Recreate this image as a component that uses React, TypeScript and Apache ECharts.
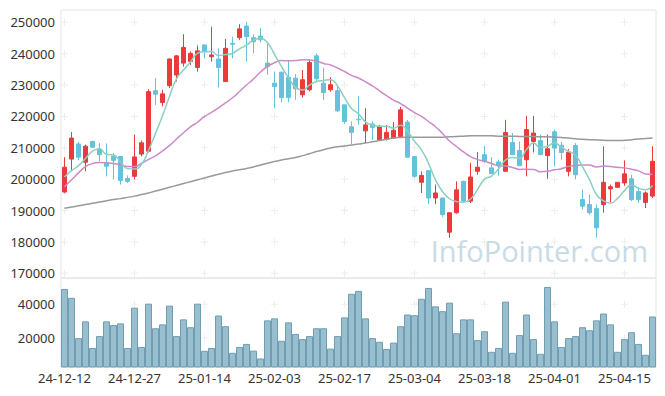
import React, { useEffect, useRef } from "react";
import * as echarts from "echarts";

const dates = [
  "24-12-12","24-12-13","24-12-16","24-12-17","24-12-18","24-12-19","24-12-20","24-12-23","24-12-24","24-12-26",
  "24-12-27","24-12-30","25-01-02","25-01-03","25-01-06","25-01-07","25-01-08","25-01-09","25-01-10","25-01-13",
  "25-01-14","25-01-15","25-01-16","25-01-17","25-01-20","25-01-21","25-01-22","25-01-23","25-01-24","25-01-31",
  "25-02-03","25-02-04","25-02-05","25-02-06","25-02-07","25-02-10","25-02-11","25-02-12","25-02-13","25-02-14",
  "25-02-17","25-02-18","25-02-19","25-02-20","25-02-21","25-02-24","25-02-25","25-02-26","25-02-27","25-02-28",
  "25-03-04","25-03-05","25-03-06","25-03-07","25-03-10","25-03-11","25-03-12","25-03-13","25-03-14","25-03-17",
  "25-03-18","25-03-19","25-03-20","25-03-21","25-03-24","25-03-25","25-03-26","25-03-27","25-03-28","25-03-31",
  "25-04-01","25-04-02","25-04-03","25-04-04","25-04-07","25-04-08","25-04-09","25-04-10","25-04-11","25-04-14",
  "25-04-15","25-04-16","25-04-17","25-04-18","25-04-21",
];

const opens = [
  195900,206400,211200,205400,212000,209600,205200,207300,207200,200200,
  200900,208000,208900,228200,224400,229800,233200,237000,237500,235600,
  242800,239000,238300,231100,243300,245100,248800,245100,245600,237000,
  230600,234100,232500,232200,226900,228500,239300,230600,228500,228200,
  223700,216700,219100,215400,217600,212600,212800,213100,213600,218200,
  207200,199000,202700,194000,194000,183100,189300,199300,193000,202500,
  207800,203600,205500,202500,211700,209100,206200,212000,212300,207500,
  215100,210800,202500,210700,193500,191900,190600,191900,196900,197400,
  198800,200100,196100,192600,194600,
];
const closes = [
  203800,213100,207000,210500,210200,207800,204100,206000,199600,199300,
  207100,211600,227900,227100,227200,238300,239300,242000,240100,240900,
  240700,239600,235600,241700,243000,247900,245400,243800,244400,235900,
  229500,226000,226000,228800,231700,237200,232000,227600,230100,221800,
  218400,214900,218900,217300,216500,216800,214900,215600,222100,207000,
  200900,201200,194000,195600,188700,189300,196600,193000,200700,203800,
  205700,201800,204300,214900,207800,204300,215800,214700,207800,209700,
  209900,208500,208600,201400,191400,189300,184500,199000,197600,199000,
  201700,193500,193500,195600,205700,
];
const lows = [
  195500,202700,206000,202500,210000,205700,200900,199900,198300,198800,
  199900,207300,208500,223700,223200,229000,231100,235900,236400,234300,
  238500,237500,229200,231000,238500,244400,237500,240100,243500,233300,
  222600,224500,224500,225300,226000,228000,231300,225300,227900,221400,
  217600,211200,217300,211500,212600,212300,212300,212800,213500,207000,
  200400,195600,192100,192100,188000,181300,189000,192700,192400,201400,
  205200,201800,201100,202400,207800,204300,200900,208500,207800,200100,
  204100,206200,200900,199900,190300,188700,181300,189300,192600,197400,
  197900,193000,192400,190800,194000,
];
const highs = [
  207000,215000,211900,211000,212300,211500,211400,208300,207300,201200,
  214200,212300,228700,232200,228500,238500,239600,246200,240700,242600,
  242800,248600,241700,244700,245400,249400,250200,246200,248100,243300,
  234300,234300,238000,233500,234800,238200,240100,235600,232500,230100,
  223700,218400,226400,222600,218400,217300,217300,218200,223000,218900,
  207200,202500,202700,198300,194000,189300,199300,199500,205200,208600,
  210500,207000,206200,218900,214700,212000,220200,220200,214200,214200,
  215800,211800,209600,211500,196700,195100,191900,210500,198300,199000,
  206000,201400,197500,196100,210500,
];

const volumes = [
  49200,43900,19800,29800,13900,21000,29800,27600,28600,13900,
  38000,14500,40400,25700,28000,39200,21000,31000,26300,40400,
  12200,13900,33300,26900,11000,14500,16300,12300,7600,30400,
  31600,18200,29200,22300,19200,21000,25700,25700,13500,21000,
  32200,46300,48000,31600,19800,17600,13300,17100,26900,33900,
  33500,43300,49800,38800,35900,41000,22700,31000,31000,18600,
  23900,11600,13900,41600,11000,21600,33900,19200,10400,50400,
  29800,14500,19800,21000,26300,24500,30400,34500,28000,11600,
  19200,23300,16300,9800,32700,
];

// values of the averages before enough visible closes exist
const ma5Lead = [200700, 202700, 204300, 206600];
const ma20Lead = [
  197600,199800,202000,204000,205000,205300,205200,205000,204600,204000,
  204000,205000,206300,207400,209000,210700,212800,214800,216700,
];
// long-term average (grey)
const longMa = [
  190700,191100,191500,191900,192300,192700,193100,193500,193800,194200,
  194600,195100,195600,196200,196800,197400,198000,198600,199200,199800,
  200400,201000,201600,202100,202600,203000,203400,203900,204500,205100,
  205600,206100,206500,206900,207500,208100,208800,209400,209900,210300,
  210600,210900,211200,211500,211900,212300,212700,213100,213300,213400,
  213400,213400,213400,213400,213400,213500,213600,213700,213800,213800,
  213800,213800,213700,213700,213700,213600,213600,213600,213500,213500,
  213400,213300,213100,212900,212700,212600,212500,212400,212300,212300,
  212400,212600,212800,213000,213100,
];

const priceTicks = [170000, 180000, 190000, 200000, 210000, 220000, 230000, 240000, 250000];
const volumeTicks = [20000, 40000];
const xTickIdx = [0, 10, 20, 30, 40, 50, 60, 70, 80];

function movingAverage(n: number, lead: number[]) {
  return closes.map((_, i) => {
    if (i < n - 1) return lead[i];
    let s = 0;
    for (let k = i - n + 1; k <= i; k++) s += closes[k];
    return Math.round(s / n);
  });
}

const UP = "#eb3a3c";
const DOWN = "#66c1d9";
const FONT = "Noto Sans";
const CROSS = "path://M3 0H4V7H3Z M0 3H7V4H0Z";

export default function App() {
  const ref = useRef<HTMLDivElement>(null);
  useEffect(() => {
    if (!ref.current) return;
    const chart = echarts.init(ref.current, undefined, { renderer: "svg" });
    const candles = opens.map((o, i) => [o, closes[i], lows[i], highs[i]]);
    const priceCross: number[][] = [];
    xTickIdx.forEach((x) => priceTicks.forEach((y) => priceCross.push([x, y])));
    const volCross: number[][] = [];
    xTickIdx.forEach((x) => volumeTicks.forEach((y) => volCross.push([x, y])));
    const labelStyle = { fontSize: 13, color: "#333", fontFamily: FONT };
    const plain = (v: number) => String(v);
    chart.setOption({
      animation: false,
      grid: [
        { left: 61, right: 9, top: 10, height: 268, show: true, borderColor: "#e4e4e4", borderWidth: 1, backgroundColor: "transparent" },
        { left: 61, right: 9, top: 278, height: 89, show: true, borderColor: "#e4e4e4", borderWidth: 1, backgroundColor: "transparent" },
      ],
      xAxis: [
        {
          type: "category", gridIndex: 0, data: dates, boundaryGap: true,
          axisLine: { show: false }, axisTick: { show: false }, axisLabel: { show: false }, splitLine: { show: false },
        },
        {
          type: "category", gridIndex: 1, data: dates, boundaryGap: true,
          axisLine: { show: false }, axisTick: { show: false }, splitLine: { show: false },
          axisLabel: { ...labelStyle, interval: 9, margin: 4 },
        },
      ],
      yAxis: [
        {
          type: "value", gridIndex: 0, min: 168500, max: 253920,
          axisLine: { show: false }, axisTick: { show: false }, splitLine: { show: false },
          axisLabel: { ...labelStyle, margin: 6, customValues: priceTicks, formatter: plain },
        },
        {
          type: "value", gridIndex: 1, min: 2500, max: 55750,
          axisLine: { show: false }, axisTick: { show: false }, splitLine: { show: false },
          axisLabel: { ...labelStyle, margin: 6, customValues: volumeTicks, formatter: plain },
        },
      ],
      graphic: [
        {
          type: "text", right: 17, top: 236, silent: true,
          style: { text: "InfoPointer.com", font: '29px "Open Sans"', fill: "#c8dbe6" },
        },
      ],
      series: [
        {
          type: "scatter", xAxisIndex: 0, yAxisIndex: 0, data: priceCross, symbol: CROSS, symbolSize: 7,
          itemStyle: { color: "#e9e9e9" }, silent: true, z: 1,
        },
        {
          type: "scatter", xAxisIndex: 1, yAxisIndex: 1, data: volCross, symbol: CROSS, symbolSize: 7,
          itemStyle: { color: "#e9e9e9" }, silent: true, z: 1,
        },
        {
          type: "bar", xAxisIndex: 1, yAxisIndex: 1, data: volumes, barCategoryGap: "0%",
          itemStyle: { color: "rgba(135,180,199,0.85)", borderColor: "#6f9db3", borderWidth: 1 },
          silent: true, z: 2,
        },
        {
          type: "candlestick", xAxisIndex: 0, yAxisIndex: 0, data: candles, barWidth: 5,
          itemStyle: { color: UP, color0: DOWN, borderColor: UP, borderColor0: DOWN, borderWidth: 1 },
          silent: true, z: 2,
        },
        {
          type: "line", xAxisIndex: 0, yAxisIndex: 0, data: longMa, showSymbol: false, smooth: true,
          lineStyle: { color: "#999999", width: 1.5 }, silent: true, z: 3,
        },
        {
          type: "line", xAxisIndex: 0, yAxisIndex: 0, data: movingAverage(20, ma20Lead), showSymbol: false, smooth: true,
          lineStyle: { color: "#cc8ac7", width: 1.5 }, silent: true, z: 3,
        },
        {
          type: "line", xAxisIndex: 0, yAxisIndex: 0, data: movingAverage(5, ma5Lead), showSymbol: false, smooth: true,
          lineStyle: { color: "#8ccfc1", width: 1.5 }, silent: true, z: 3,
        },
      ],
    });
    return () => chart.dispose();
  }, []);
  return <div ref={ref} style={{ width: 665, height: 396, position: "absolute", left: 0, top: 0 }} />;
}
